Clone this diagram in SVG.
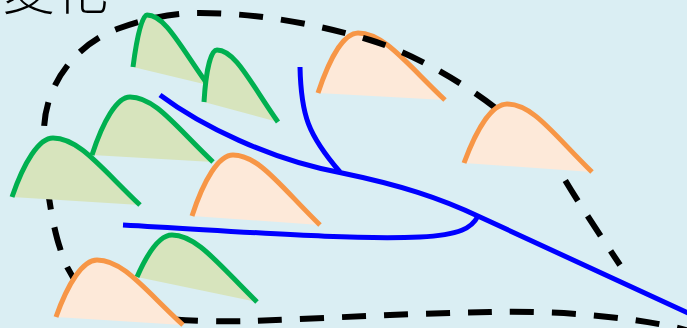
<svg xmlns="http://www.w3.org/2000/svg" width="687" height="328" viewBox="0 0 687 328">
<style>
.gf{fill:#d7e4bd;stroke:none}
.gs{fill:none;stroke:#00b050;stroke-width:5}
.of{fill:#fde9d9;stroke:none}
.os{fill:none;stroke:#f79646;stroke-width:5}
.bl{fill:none;stroke:#0000ff;stroke-width:5}
.dash{fill:none;stroke:#000;stroke-width:6;stroke-dasharray:24 18}
.t{font-family:"Noto Sans CJK JP","Noto Sans CJK SC",sans-serif;font-size:53px;font-weight:300;fill:#000}
</style>
<rect width="687" height="328" fill="#daeef3"/>
<text class="t" x="2" y="10">変化</text>
<g id="finH">
<path class="of" d="M318,93 C330,57 344,33 358,33 C384,33 406,63 445,100 Z"/>
<path class="os" d="M318,93 C330,57 344,33 358,33 C384,33 406,63 445,100"/>
</g>
<g id="boundary">
<path class="dash" d="M700,334 C650,318 560,310 490,312 C420,313 330,318 250,321 C200,322 140,320 110,308 C80,296 66,270 60,248 C52,225 43,170 44,130 C45,85 75,45 117,29 C145,19 170,13 200,13 C260,13 320,25 370,40 C420,55 520,110 565,180 C580,205 600,235 620,265"/>
</g>
<g id="finA">
<path class="gf" d="M133,67 C137,36 142,15 147,15 C165,15 180,46 208,85 Z"/>
<path class="gs" d="M133,67 C137,36 142,15 147,15 C165,15 180,46 208,85"/>
</g>
<g id="finB">
<path class="gf" d="M204,102 C206,69 211,50 217,50 C235,50 250,82 278,122 Z"/>
<path class="gs" d="M204,102 C206,69 211,50 217,50 C235,50 250,82 278,122"/>
</g>
<g id="finC">
<path class="gf" d="M92,155 C103,121 117,97 130,97 C155,97 176,127 213,162 Z"/>
<path class="gs" d="M92,155 C103,121 117,97 130,97 C155,97 176,127 213,162"/>
</g>
<g id="finD">
<path class="gf" d="M12,197 C24,162 39,138 53,138 C79,138 101,168 140,205 Z"/>
<path class="gs" d="M12,197 C24,162 39,138 53,138 C79,138 101,168 140,205"/>
</g>
<g id="finE">
<path class="of" d="M192,216 C204,179 219,155 233,155 C259,155 281,187 320,225 Z"/>
<path class="os" d="M192,216 C204,179 219,155 233,155 C259,155 281,187 320,225"/>
</g>
<g id="finF">
<path class="gf" d="M137,277 C148,252 160,235 172,235 C197,235 219,265 257,302 Z"/>
<path class="gs" d="M137,277 C148,252 160,235 172,235 C197,235 219,265 257,302"/>
</g>
<g id="finG">
<path class="of" d="M56,317 C68,283 83,260 97,260 C123,260 144,289 183,325 Z"/>
<path class="os" d="M56,317 C68,283 83,260 97,260 C123,260 144,289 183,325"/>
</g>
<g id="finI">
<path class="of" d="M464,163 C477,128 492,104 507,104 C533,104 554,135 592,172 Z"/>
<path class="os" d="M464,163 C477,128 492,104 507,104 C533,104 554,135 592,172"/>
</g>
<g id="connectors">
<path class="bl" d="M160,95 C200,125 270,160 342,173 C400,185 440,198 480,217 L690,314"/>
<path class="bl" d="M300,67 C301,115 308,135 340,172"/>
<path class="bl" d="M123,225 C250,232 350,240 420,237 C460,235 472,228 478,216"/>
</g>
</svg>
